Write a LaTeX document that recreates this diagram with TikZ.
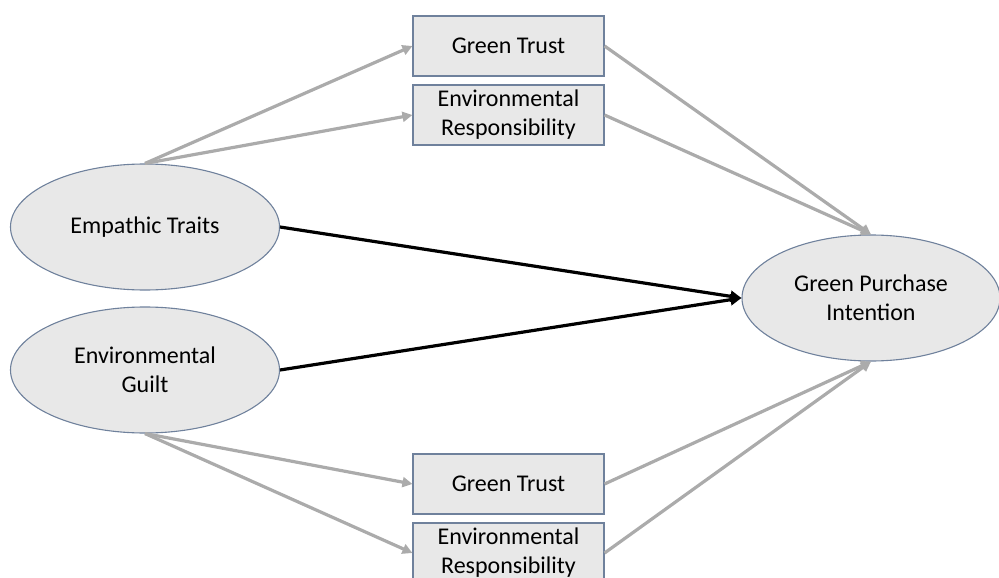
\documentclass[tikz,border=0pt]{standalone}
\usepackage{fontspec}
\setmainfont{Carlito}
\usetikzlibrary{shapes.geometric,arrows.meta}
\definecolor{nodefill}{HTML}{E8E8E8}
\definecolor{nodeline}{HTML}{6F819C}
\definecolor{grayarrow}{HTML}{ABABAB}
\begin{document}
\begin{tikzpicture}[x=1pt,y=-1pt,
  oval/.style={ellipse,draw=nodeline,line width=1.1pt,fill=nodefill,minimum width=269pt,minimum height=126pt,inner sep=0pt,align=center,font=\fontsize{24}{29}\selectfont},
  box/.style={rectangle,draw=nodeline,line width=1.1pt,fill=nodefill,minimum width=191pt,minimum height=60pt,inner sep=0pt,align=center,font=\fontsize{24}{29}\selectfont},
  garrow/.style={draw=grayarrow,line width=3.2pt,-{Triangle[length=10pt,width=10pt]}},
  barrow/.style={draw=black,line width=3.2pt,-{Triangle[length=11pt,width=11pt]}}
]
\useasboundingbox (0,0) rectangle (999,578);
\begin{scope}
\clip (0,0) rectangle (999,578);
\node[oval] (et) at (145,227) {Empathic Traits};
\node[oval] (eg) at (145,370) {Environmental\\Guilt};
\node[oval,minimum width=258pt] (gpi) at (871,298) {Green Purchase\\Intention};
\node[box] (gt1) at (508.5,46) {Green Trust};
\node[box] (er1) at (508.5,115) {Environmental\\Responsibility};
\node[box] (gt2) at (508.5,484) {Green Trust};
\node[box] (er2) at (508.5,553) {Environmental\\Responsibility};
\draw[garrow] (et.north) -- (gt1.west);
\draw[garrow] (et.north) -- (er1.west);
\draw[garrow] (gt1.east) -- (gpi.north);
\draw[garrow] (er1.east) -- (gpi.north);
\draw[garrow] (eg.south) -- (gt2.west);
\draw[garrow] (eg.south) -- (er2.west);
\draw[garrow] (gt2.east) -- (gpi.south);
\draw[garrow] (er2.east) -- (gpi.south);
\draw[barrow] (et.east) -- (gpi.west);
\draw[barrow] (eg.east) -- (gpi.west);
\end{scope}
\end{tikzpicture}
\end{document}
